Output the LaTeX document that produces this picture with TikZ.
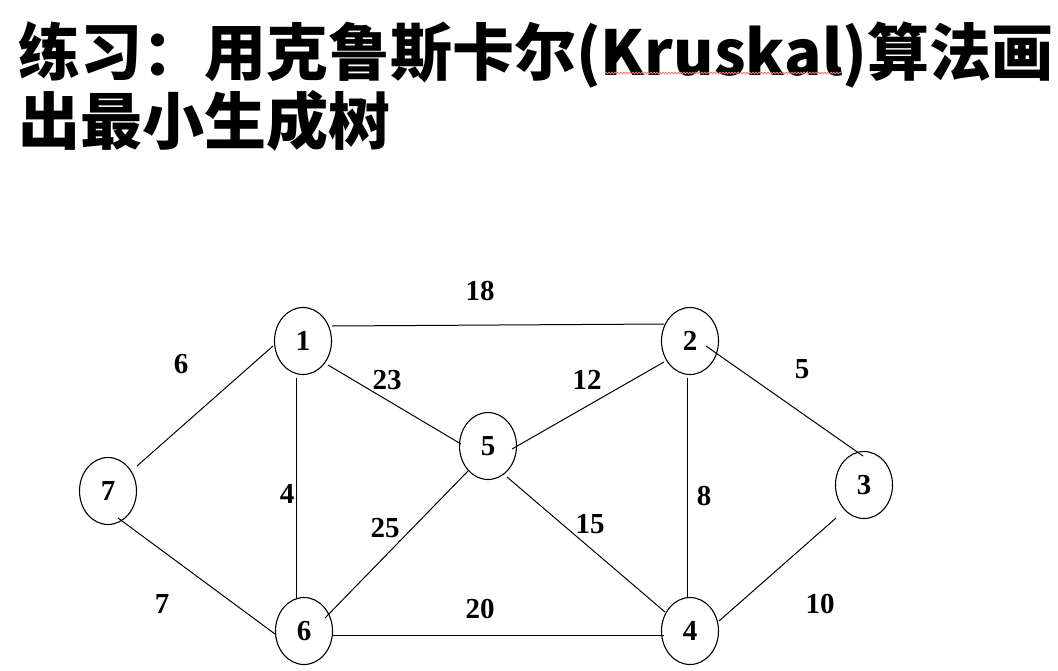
\documentclass[tikz,border=0pt]{standalone}
\usepackage{fontspec}
\setmainfont{Liberation Serif}
\newfontfamily\cjk{Noto Sans CJK SC}
\usetikzlibrary{shapes.geometric,calc,decorations.pathmorphing}
\begin{document}
\begin{tikzpicture}[x=1pt,y=-1pt,
  vertex/.style={ellipse,draw,line width=1.1pt,minimum width=57pt,minimum height=67pt,inner sep=0pt,
    font=\fontsize{29}{29}\selectfont\bfseries},
  edge/.style={line width=1pt},
  wlabel/.style={font=\fontsize{29}{29}\selectfont\bfseries,inner sep=0pt},
  titletext/.style={font=\cjk\bfseries\fontsize{62}{62}\selectfont,inner sep=0pt,anchor=base west}]
\useasboundingbox[fill=white] (0,0) rectangle (1058,670);
% title
\node[titletext] (t1) at (18,75) {练习：用克鲁斯卡尔(Kruskal)算法画};
\node[titletext] (t2) at (18,144) {出最小生成树};
\draw[red!55,line width=0.8pt,decorate,decoration={snake,segment length=3pt,amplitude=0.8pt}] (605,73) -- (841,73);
% vertices
\node[vertex] (n1) at (303,341) {1};
\node[vertex] (n2) at (690,341) {2};
\node[vertex] (n3) at (864,485) {3};
\node[vertex] (n4) at (690,631) {4};
\node[vertex] (n5) at (488,446) {5};
\node[vertex] (n6) at (304,631) {6};
\node[vertex] (n7) at (108,491) {7};
% edges
\draw[edge] ($(n7)+(29,-25)$) -- ($(n1)+(-30,5)$);
\draw[edge] ($(n1)+(29,-15)$) -- ($(n2)+(-26,-17)$);
\draw[edge] ($(n1)+(-7,37)$) -- ($(n6)+(-8,-33)$);
\draw[edge] ($(n1)+(25,24)$) -- ($(n5)+(-27,-2)$);
\draw[edge] ($(n7)+(10,27)$) -- ($(n6)+(-29,3)$);
\draw[edge] ($(n6)+(21,-13)$) -- ($(n5)+(-20,25)$);
\draw[edge] ($(n6)+(28,4)$) -- ($(n4)+(-26,4)$);
\draw[edge] ($(n5)+(24,3)$) -- ($(n2)+(-26,21)$);
\draw[edge] ($(n5)+(19,31)$) -- ($(n4)+(-25,-19)$);
\draw[edge] ($(n2)+(-3,37)$) -- ($(n4)+(-3,-33)$);
\draw[edge] ($(n2)+(16,5)$) -- ($(n3)+(-1,-29)$);
\draw[edge] ($(n3)+(-28,33)$) -- ($(n4)+(29,-10)$);
% weights
\node[wlabel] (w18) at (480,291) {18};
\node[wlabel] (w6) at (181,364) {6};
\node[wlabel] (w23) at (387,380) {23};
\node[wlabel] (w4) at (287,494) {4};
\node[wlabel] (w25) at (385,528) {25};
\node[wlabel] (w7) at (162,604) {7};
\node[wlabel] (w20) at (480,609) {20};
\node[wlabel] (w12) at (587,380) {12};
\node[wlabel] (w5) at (802,369) {5};
\node[wlabel] (w8) at (704,496) {8};
\node[wlabel] (w15) at (590,524) {15};
\node[wlabel] (w10) at (820,604) {10};
\end{tikzpicture}
\end{document}
